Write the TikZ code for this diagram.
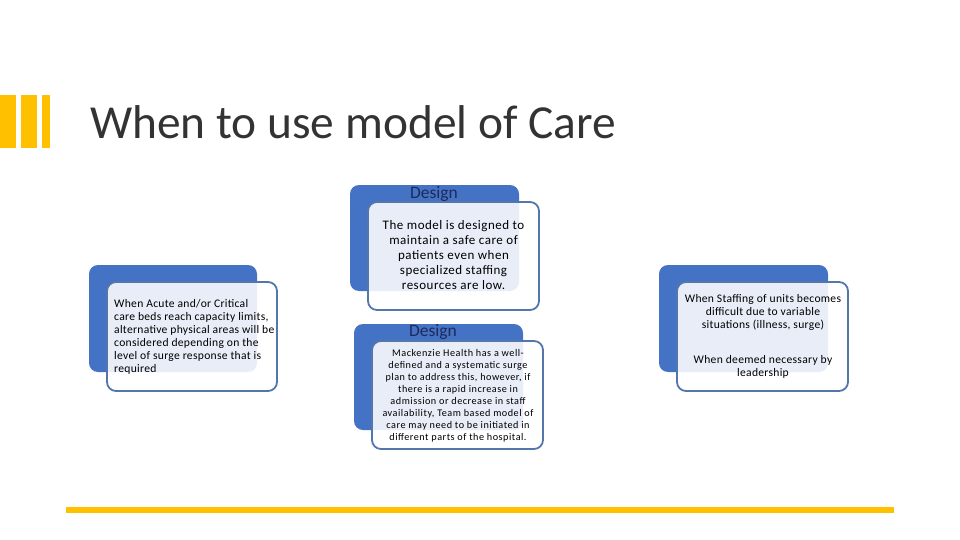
\documentclass[tikz,border=0pt]{standalone}
\usepackage{fontspec}
\setmainfont{Carlito}
\usetikzlibrary{backgrounds}
\definecolor{barY}{HTML}{FFC000}
\definecolor{backB}{HTML}{4472C4}
\definecolor{edgeB}{HTML}{5477AB}
\definecolor{titleC}{HTML}{333333}
\definecolor{headC}{HTML}{1F2A5A}
\tikzset{
  x=1pt,y=-1pt,
  backbox/.style={fill=backB,draw=none,rounded corners=9pt},
  frontbox/.style={fill=white,fill opacity=0.88,draw=edgeB,line width=1.8pt,rounded corners=9pt},
  bartile/.style={fill=barY,draw=none},
  txt/.style={inner sep=0pt,text=black},
  bigtxt/.style={txt,align=center,font=\fontsize{13}{15}\selectfont\addfontfeature{LetterSpace=4}},
  smalltxt/.style={txt,align=center,font=\fontsize{10.2}{12}\selectfont\addfontfeature{LetterSpace=5}},
  midtxt/.style={txt,font=\fontsize{11.6}{13}\selectfont\addfontfeature{LetterSpace=2.5}},
  headtxt/.style={inner sep=0pt,text=headC,font=\fontsize{17.5}{19}\selectfont},
}
\begin{document}
\begin{tikzpicture}
\useasboundingbox (0,0) rectangle (960,540);
\fill[bartile] (0,95) rectangle (16,148);
\fill[bartile] (21,95) rectangle (37,148);
\fill[bartile] (42,95) rectangle (50,148);
\fill[bartile] (66,507) rectangle (894,513);
\node[anchor=base west,inner sep=0pt,text=titleC,font=\fontsize{47.4}{50}\selectfont] (title) at (90,139) {When to use model of Care};
% left
\fill[backbox] (89,265) rectangle (257,372);
\draw[frontbox] (107,282) rectangle (277,391);
\node[midtxt,anchor=north west,align=left] (leftT) at (114,299) {When Acute and/or Critical\\care beds reach capacity limits,\\alternative physical areas will be\\considered depending on the\\level of surge response that is\\required};
% top middle
\fill[backbox] (350,185) rectangle (519,291);
\draw[frontbox] (368,202) rectangle (539,310);
\node[headtxt] (h1) at (434,193.5) {Design};
\node[bigtxt,anchor=north] (midA) at (453.5,220) {The model is designed to\\maintain a safe care of\\patients  even when\\specialized staffing\\resources are low.};
% bottom middle
\fill[backbox] (354,324) rectangle (523,430);
\draw[frontbox] (372,341) rectangle (543,449);
\node[headtxt] (h2) at (433,331.5) {Design};
\node[smalltxt,anchor=north] (midB) at (458,349) {Mackenzie Health has a well-\\defined and a systematic surge\\plan to address this, however, if\\there is a rapid increase in\\admission or decrease in staff\\availability, Team based model of\\care may need to be initiated in\\different parts of the hospital.};
% right
\fill[backbox] (659,265) rectangle (828,372);
\draw[frontbox] (677,282) rectangle (848,391);
\node[midtxt,anchor=north,align=center] (rightA) at (763,294) {When Staffing of units becomes\\difficult due to variable\\situations (illness, surge)};
\node[midtxt,anchor=north,align=center] (rightB) at (763,355) {When deemed necessary by\\leadership};
\end{tikzpicture}
\end{document}
